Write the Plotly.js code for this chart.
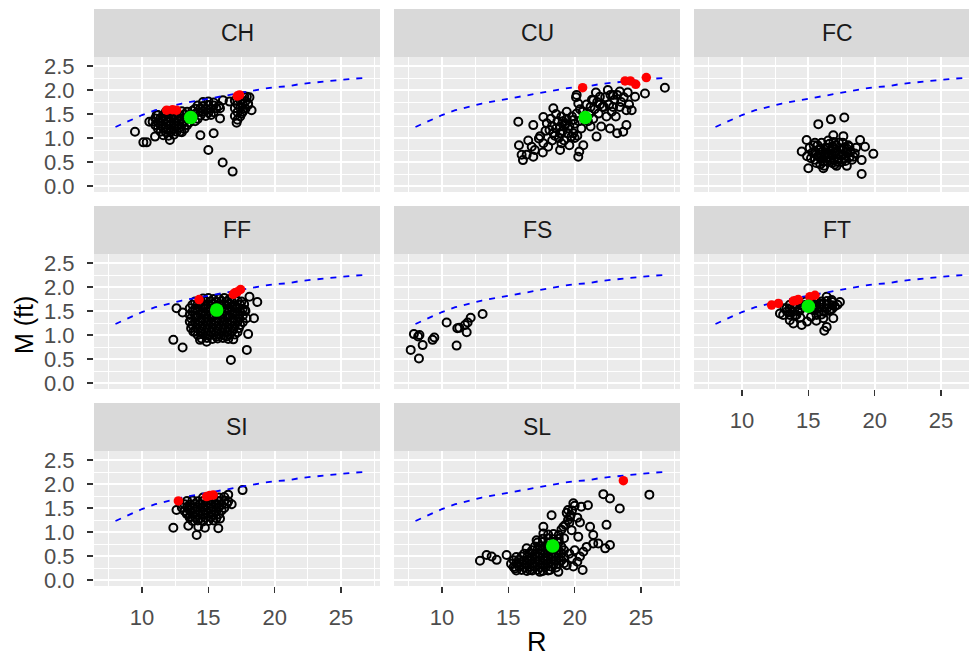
<!DOCTYPE html>
<html><head><meta charset="utf-8">
<script src="https://cdn.plot.ly/plotly-3.0.1.min.js"></script>
<style>html,body{margin:0;padding:0;overflow:hidden;background:#fff}#chart{width:981px;height:660px}</style>
</head><body><div id="chart"></div>
<script>
// ---------------- data ----------------
const facets = ['CH','CU','FC','FF','FS','FT','SI','SL'];
const xTicks = [10, 15, 20, 25];
const yTicks = [0, 0.5, 1, 1.5, 2, 2.5];
const yTickText = ['0.0','0.5','1.0','1.5','2.0','2.5'];

// dashed reference curve (same in every panel)
const lineR = [8, 9, 10, 11, 12, 13, 14, 15, 16, 17, 18, 19, 20, 21, 22, 23, 24, 25, 26, 26.8];
const lineM = [1.23, 1.36, 1.48, 1.58, 1.65, 1.72, 1.77, 1.82, 1.88, 1.93, 1.98, 2.02, 2.06, 2.08, 2.13, 2.16, 2.18, 2.21, 2.24, 2.25];

const CH_pts = [[9.47,1.13],[10.1,0.91],[10.35,0.91],[10.98,1.03],[10.55,1.34],[11.1,1.48],[12.1,0.96],[12.86,1.13],[14.4,1.06],[15.4,1.10],[15.0,0.75],[16.08,0.49],[16.83,0.30],[15.88,1.41],[15.88,1.62],[16.6,1.76],[16.1,1.79],[17.13,1.32],[18.26,1.58],[17.9,1.86],[17.5,1.51],[18.0,1.72],
[11.8,1.55],[12.2,1.56],[12.6,1.54],[13.0,1.56],[13.4,1.55],[13.8,1.57],
[11.2,1.48],[11.6,1.47],[12.0,1.49],[12.4,1.48],[12.8,1.47],[13.2,1.49],[13.6,1.48],[14.0,1.50],
[11.0,1.41],[11.4,1.42],[11.8,1.40],[12.2,1.41],[12.6,1.42],[13.0,1.40],[13.4,1.41],[13.8,1.42],[14.2,1.40],
[10.8,1.34],[11.2,1.33],[11.6,1.35],[12.0,1.34],[12.4,1.33],[12.8,1.35],[13.2,1.34],[13.6,1.33],[14.0,1.35],
[11.0,1.27],[11.4,1.26],[11.8,1.28],[12.2,1.27],[12.6,1.26],[13.0,1.28],[13.4,1.27],
[11.2,1.20],[11.6,1.21],[12.0,1.19],[12.4,1.20],[12.8,1.21],[13.2,1.19],
[11.4,1.13],[11.8,1.12],[12.2,1.14],[12.6,1.13],[13.0,1.12],
[11.6,1.06],[12.0,1.05],[12.4,1.07],
[14.6,1.75],[15.0,1.76],[15.4,1.74],
[14.2,1.68],[14.6,1.67],[15.0,1.69],[15.4,1.68],[15.8,1.67],
[14.0,1.61],[14.4,1.62],[14.8,1.60],[15.2,1.61],[15.6,1.62],
[14.2,1.54],[14.6,1.55],[15.0,1.53],[15.4,1.54],
[14.4,1.47],[14.8,1.46],[15.2,1.48],
[17.3,1.86],[17.7,1.87],[18.1,1.85],
[17.0,1.78],[17.4,1.79],[17.8,1.77],
[17.2,1.70],[17.6,1.71],[18.0,1.69],
[17.0,1.62],[17.4,1.63],[17.8,1.61],
[17.2,1.54],[17.6,1.55],
[17.0,1.46],[17.4,1.45],
[17.2,1.38]];
const CH_red = [[11.86,1.58],[12.3,1.59],[12.6,1.58],[17.18,1.875],[17.35,1.9]];
const CH_green = [[13.67,1.43]];

const CU_pts = [[15.75,1.34],[15.8,0.85],[16.0,0.65],[16.1,0.54],[16.38,0.65],[16.88,0.61],[16.76,0.82],[16.88,1.27],[17.64,1.44],[18.39,1.62],
[18.0,0.82],[18.9,0.75],[19.0,0.89],[18.4,1.10],[19.27,1.27],[18.9,1.24],[19.77,1.03],[20.27,0.61],[20.35,0.72],[20.65,0.85],
[21.65,1.03],[20.15,1.51],[20.27,1.72],[20.15,1.90],[21.4,1.79],[21.9,1.86],[22.5,2.0],[22.9,1.90],[23.4,1.97],[22.0,1.24],
[22.66,1.20],[22.9,1.65],[23.9,1.58],[24.3,1.58],[23.2,1.10],[23.9,1.27],[23.66,1.13],[24.55,1.86],[25.3,1.93],[26.8,2.05],
[21.8,1.51],[22.2,1.65],[21.2,1.24],[19.9,1.375],[19.4,1.55],[17.3,0.99],[17.64,0.89],[17.4,1.04],[18.1,1.17],[17.9,1.31],
[18.6,1.2],[18.8,1.0],[19.1,1.15],[19.3,1.3],[19.5,1.1],[19.6,1.25],[19.8,1.45],[20.0,1.3],[20.4,1.6],[20.5,1.2],
[19.2,0.95],[18.7,1.35],[19.9,1.1],[20.9,1.7],[21.1,1.5],[21.3,1.8],[21.5,1.6],[21.7,1.75],[22.3,1.85],[22.6,1.7],
[23.0,1.8],[23.2,1.9],[23.5,1.75],[23.7,1.85],[24.0,1.95],[22.8,1.55],[21.6,1.95],[20.7,1.4],[19.4,1.4],[18.5,1.05],
[18.2,1.4],[17.8,1.15],[20.1,1.85],[21.0,1.35],[22.4,1.45],[23.1,1.45],[24.1,1.7],[22.1,1.65],
[18.9,1.1],[19.5,1.2],[20.2,1.05],[18.3,1.25],[19.0,1.45],[20.6,1.55],[21.9,1.7],[22.7,1.9],[23.4,1.65],[21.2,1.65],
[17.0,0.75],[16.5,0.95],[17.6,0.70],[18.3,0.95],[19.6,0.85],[20.0,1.0],[19.1,1.35],[18.6,1.5],[20.3,1.35],[21.4,1.4]];
const CU_red = [[20.6,2.05],[23.8,2.19],[24.2,2.19],[24.6,2.12],[25.4,2.26]];
const CU_green = [[20.8,1.43]];

const FC_pts = [[15.75,1.29],[16.7,1.39],[17.71,1.43],[14.5,0.72],[15.0,0.37],[16.13,0.37],[17.13,0.42],[19.02,0.25],[19.9,0.67],[19.27,0.82],[18.9,0.96],[17.64,1.04],[16.88,1.06],[14.87,0.96],[19.02,0.54],[18.4,0.61],
[15.3,0.70],[15.5,0.55],[15.7,0.85],[15.9,0.65],[16.1,0.50],[16.3,0.80],[16.5,0.60],[16.7,0.75],[16.9,0.55],[17.1,0.85],[17.3,0.65],[17.5,0.50],[17.7,0.80],[17.9,0.70],[18.1,0.60],
[15.4,0.85],[15.8,0.75],[16.2,0.62],[16.6,0.88],[17.0,0.70],[17.4,0.78],[17.8,0.52],[18.2,0.72],
[15.6,0.48],[16.0,0.90],[16.4,0.70],[16.8,0.48],[17.2,0.58],[17.6,0.90],[18.0,0.85],
[15.2,0.58],[16.5,0.95],[17.3,0.90],[18.3,0.55],[15.9,0.45],[16.9,0.92],
[15.1,0.80],[16.2,0.42],[17.0,0.45],[17.9,0.42],[18.6,0.80],[18.5,0.68],[14.9,0.62],[15.6,0.66],[16.6,0.66],[17.6,0.66],
[15.5,0.72],[15.9,0.78],[16.3,0.68],[16.7,0.58],[17.1,0.72],[17.5,0.64],[17.9,0.78],[16.0,0.60],[16.4,0.52],[16.8,0.82],
[17.2,0.50],[17.6,0.76],[15.7,0.62],[16.1,0.72],[16.5,0.80],[16.9,0.64],[17.3,0.56],[17.7,0.58],[18.1,0.82],[15.5,0.90]];

const FF_pts = [[12.36,0.90],[13.06,0.74],[12.6,1.56],[13.06,1.47],[16.7,0.48],[17.9,0.69],[18.0,1.02],[18.44,1.35],[18.69,1.69],[18.1,1.80],[14.37,0.90],[14.87,0.86],[15.63,0.97],[16.38,0.97],[16.88,0.91],[13.87,1.07],[17.76,1.52],[17.88,1.35],
[14.6,1.76],[15.0,1.77],[15.4,1.75],[15.8,1.76],[16.2,1.77],[16.6,1.75],[17.0,1.76],
[14.0,1.70],[14.4,1.69],[14.8,1.71],[15.2,1.70],[15.6,1.69],[16.0,1.71],[16.4,1.70],[16.8,1.69],[17.2,1.71],[17.5,1.70],
[13.8,1.63],[14.2,1.64],[14.6,1.62],[15.0,1.63],[15.4,1.64],[15.8,1.62],[16.2,1.63],[16.6,1.64],[17.0,1.62],[17.4,1.63],[17.7,1.64],
[13.6,1.56],[14.0,1.55],[14.4,1.57],[14.8,1.56],[15.2,1.55],[15.6,1.57],[16.0,1.56],[16.4,1.55],[16.8,1.57],[17.2,1.56],[17.6,1.55],
[13.8,1.49],[14.2,1.50],[14.6,1.48],[15.0,1.49],[15.4,1.50],[15.8,1.48],[16.2,1.49],[16.6,1.50],[17.0,1.48],[17.4,1.49],[17.8,1.50],
[13.6,1.42],[14.0,1.41],[14.4,1.43],[14.8,1.42],[15.2,1.41],[15.6,1.43],[16.0,1.42],[16.4,1.41],[16.8,1.43],[17.2,1.42],[17.6,1.41],
[13.7,1.35],[14.1,1.36],[14.5,1.34],[14.9,1.35],[15.3,1.36],[15.7,1.34],[16.1,1.35],[16.5,1.36],[16.9,1.34],[17.3,1.35],
[13.6,1.28],[14.0,1.27],[14.4,1.29],[14.8,1.28],[15.2,1.27],[15.6,1.29],[16.0,1.28],[16.4,1.27],[16.8,1.29],[17.2,1.28],[17.6,1.27],
[13.8,1.21],[14.2,1.22],[14.6,1.20],[15.0,1.21],[15.4,1.22],[15.8,1.20],[16.2,1.21],[16.6,1.22],[17.0,1.20],[17.4,1.21],
[13.7,1.14],[14.1,1.15],[14.5,1.13],[14.9,1.14],[15.3,1.15],[15.7,1.13],[16.1,1.14],[16.5,1.15],[16.9,1.13],[17.3,1.14],
[14.0,1.07],[14.4,1.08],[14.8,1.06],[15.2,1.07],[15.6,1.08],[16.0,1.06],[16.4,1.07],[16.8,1.08],[17.2,1.06],
[14.2,1.00],[14.6,1.01],[15.0,0.99],[15.4,1.00],[15.8,1.01],[16.2,0.99],[16.6,1.00],[17.0,1.01],
[14.5,0.93],[14.9,0.94],[15.3,0.92],[15.7,0.93],[16.1,0.94],[16.5,0.92]];
const FF_red = [[14.3,1.74],[16.88,1.85],[17.0,1.88],[17.18,1.90],[17.43,1.95]];
const FF_green = [[15.63,1.52]];

const FS_pts = [[7.64,0.69],[8.26,0.51],[7.88,1.02],[8.2,0.97],[8.3,1.0],[8.54,0.79],[9.29,0.90],[9.42,0.95],[10.35,1.26],[11.1,0.78],[11.15,1.14],[11.3,1.15],[11.73,1.21],[11.86,1.06],[11.93,1.26],[12.16,1.36],[13.06,1.44]];

const FT_pts = [[13.1,1.42],[13.6,1.31],[13.87,1.24],[14.5,1.21],[14.1,1.42],[15.62,1.42],[16.13,1.35],[16.38,1.17],[16.2,1.09],[16.88,1.35],[17.38,1.69],[16.76,1.73],[16.38,1.80],[15.88,1.66],[15.37,1.52],[14.37,1.52],[13.36,1.56],[12.86,1.45],[16.63,1.52],[17.0,1.60],
[14.8,1.70],[15.2,1.71],[15.6,1.69],[16.0,1.70],[16.4,1.71],[16.8,1.69],
[13.6,1.63],[14.0,1.64],[14.4,1.62],[14.8,1.63],[15.2,1.64],[15.6,1.62],[16.0,1.63],[16.4,1.64],[16.8,1.62],[17.2,1.63],
[13.2,1.56],[13.6,1.55],[14.0,1.57],[14.4,1.56],[15.6,1.55],[16.0,1.57],[16.4,1.56],[16.8,1.55],
[13.4,1.49],[13.8,1.48],[14.2,1.50],[15.8,1.49],[16.2,1.48],[16.6,1.50],
[13.6,1.42],[14.0,1.41],[14.4,1.36],[15.6,1.30],[16.0,1.43],[14.9,1.28],[15.2,1.38]];
const FT_red = [[12.23,1.625],[12.74,1.66],[13.87,1.71],[14.05,1.72],[14.24,1.74],[15.12,1.80],[15.5,1.83]];
const FT_green = [[15.0,1.60]];

const SI_pts = [[12.36,1.09],[12.6,1.46],[13.49,1.13],[14.12,0.94],[14.24,1.11],[14.74,1.09],[15.75,1.08],[15.88,1.28],[16.76,1.58],[16.5,1.78],[17.58,1.875],[13.6,1.32],[13.36,1.39],
[14.6,1.72],[15.0,1.73],[15.4,1.71],[15.8,1.72],[16.2,1.73],
[13.4,1.65],[13.8,1.66],[14.2,1.64],[14.6,1.65],[15.0,1.66],[15.4,1.64],[15.8,1.65],[16.2,1.66],[16.5,1.64],
[13.2,1.58],[13.6,1.57],[14.0,1.59],[14.4,1.58],[14.8,1.57],[15.2,1.59],[15.6,1.58],[16.0,1.57],[16.4,1.59],
[13.0,1.51],[13.4,1.52],[13.8,1.50],[14.2,1.51],[14.6,1.52],[15.0,1.50],[15.4,1.51],[15.8,1.52],[16.2,1.50],
[13.2,1.44],[13.6,1.45],[14.0,1.43],[14.4,1.44],[14.8,1.45],[15.2,1.43],[15.6,1.44],[16.0,1.45],
[13.4,1.37],[13.8,1.38],[14.2,1.36],[14.6,1.37],[15.0,1.38],[15.4,1.36],[15.8,1.37],
[13.6,1.30],[14.0,1.31],[14.4,1.29],[14.8,1.30],[15.2,1.31],[15.6,1.29],
[13.8,1.23],[14.2,1.24],[14.6,1.22],[15.0,1.23],[15.4,1.24]];
const SI_red = [[12.74,1.65],[14.87,1.74],[15.1,1.76],[15.37,1.77]];

const SL_pts = [[25.63,1.78],[22.16,1.79],[22.66,1.70],[23.4,1.49],[22.4,1.15],[22.66,0.73],[22.3,0.66],[21.78,0.76],[21.4,0.94],[21.16,1.11],[21.0,1.56],[20.5,1.53],[19.9,1.60],[19.5,1.46],[19.65,1.32],[18.26,1.35],[17.64,1.11],[20.65,0.59],[20.6,0.21],[19.9,0.28],[19.4,0.31],[18.77,0.17],[18.14,0.21],[17.38,0.17],[16.63,0.21],[15.5,0.24],[14.87,0.52],[14.12,0.42],[13.74,0.49],[13.36,0.52],[12.86,0.40],[16.38,0.66],[17.13,0.83],[17.64,0.97],[19.15,1.11],[19.77,1.04],[20.27,0.90],[20.9,0.69],[21.4,0.76],[20.4,0.49],
[19.6,0.55],[20.0,0.62],[19.8,0.45],[20.2,0.38],
[15.6,0.20],[16.0,0.21],[16.4,0.19],[16.8,0.20],[17.2,0.21],[17.6,0.19],[18.0,0.20],
[15.4,0.27],[15.8,0.28],[16.2,0.26],[16.6,0.27],[17.0,0.28],[17.4,0.26],[17.8,0.27],[18.2,0.28],[18.6,0.26],
[15.2,0.34],[15.6,0.35],[16.0,0.33],[16.4,0.34],[16.8,0.35],[17.2,0.33],[17.6,0.34],[18.0,0.35],[18.4,0.33],[18.8,0.34],[19.2,0.35],
[15.4,0.41],[15.8,0.42],[16.2,0.40],[16.6,0.41],[17.0,0.42],[17.4,0.40],[17.8,0.41],[18.2,0.42],[18.6,0.40],[19.0,0.41],
[15.6,0.48],[16.0,0.49],[16.4,0.47],[16.8,0.48],[17.2,0.49],[17.6,0.47],[18.0,0.48],[18.4,0.49],[18.8,0.47],[19.2,0.48],
[16.2,0.55],[16.6,0.56],[17.0,0.54],[17.4,0.55],[17.8,0.56],[18.2,0.54],[18.6,0.55],[19.0,0.56],
[16.8,0.62],[17.2,0.63],[17.6,0.61],[18.0,0.62],[18.4,0.63],[18.8,0.61],[19.2,0.62],
[17.0,0.70],[17.4,0.71],[17.8,0.69],[18.2,0.70],[18.6,0.71],[19.0,0.69],
[17.2,0.78],[17.6,0.79],[18.0,0.77],[18.4,0.78],[18.8,0.79],
[17.6,0.86],[18.0,0.87],[18.4,0.85],[18.8,0.86],[19.2,0.87],
[18.0,0.95],[18.4,0.96],[18.8,0.94],
[19.0,1.05],[19.3,1.15],[19.5,1.25],[19.7,1.35],[19.8,1.45],[20.0,1.55],[19.6,1.20],[19.4,1.40],[20.2,1.30],[20.4,1.20]];
const SL_red = [[23.67,2.07]];
const SL_green = [[18.34,0.71]];

const blackPts = {CH: CH_pts, CU: CU_pts, FC: FC_pts, FF: FF_pts, FS: FS_pts, FT: FT_pts, SI: SI_pts, SL: SL_pts};
const redPts = {CH: CH_red, CU: CU_red, FF: FF_red, FT: FT_red, SI: SI_red, SL: SL_red};
const greenPts = {CH: CH_green, CU: CU_green, FF: FF_green, FT: FT_green, SL: SL_green};

// ---------------- layout geometry (pixels) ----------------
const W = 981, H = 660;
const colLeft = [94, 394, 694], panelW = 286;
const rowTop = [57, 254, 451], panelH = 135, stripH = 48;
const FONT = '"Liberation Sans", Arial, sans-serif';

const traces = [];
const layout = {
  width: W, height: H, margin: {l: 0, r: 0, t: 0, b: 0},
  paper_bgcolor: '#FFFFFF', plot_bgcolor: '#EBEBEB',
  showlegend: false, font: {family: FONT},
  shapes: [], annotations: []
};

facets.forEach((f, i) => {
  const r = Math.floor(i / 3), c = i % 3;
  const n = i + 1, xa = 'x' + (n === 1 ? '' : n), ya = 'y' + (n === 1 ? '' : n);
  const showX = (f === 'SI' || f === 'SL' || f === 'FT');
  const showY = (c === 0);
  const x0 = colLeft[c], x1 = x0 + panelW, yT = rowTop[r], yB = yT + panelH;

  layout['xaxis' + (n === 1 ? '' : n)] = {
    domain: [x0 / W, x1 / W], anchor: ya, range: [6.38, 27.94],
    showgrid: true, gridcolor: '#FFFFFF', gridwidth: 2, zeroline: false, showline: false,
    tickvals: xTicks, ticktext: xTicks.map(String),
    minor: {tickvals: [7.5, 12.5, 17.5, 22.5, 27.5], showgrid: true, gridcolor: '#FFFFFF', gridwidth: 1, ticks: ''},
    ticks: showX ? 'outside' : '', ticklen: 6, tickwidth: 1.5, tickcolor: '#333333',
    ticklabelstandoff: 6,
    showticklabels: showX, tickfont: {family: FONT, size: 22, color: '#4D4D4D'}
  };
  layout['yaxis' + (n === 1 ? '' : n)] = {
    domain: [1 - yB / H, 1 - yT / H], anchor: xa, range: [-0.125, 2.69],
    showgrid: true, gridcolor: '#FFFFFF', gridwidth: 2, zeroline: false, showline: false,
    tickvals: yTicks, ticktext: yTickText,
    minor: {tickvals: [0.25, 0.75, 1.25, 1.75, 2.25], showgrid: true, gridcolor: '#FFFFFF', gridwidth: 1, ticks: ''},
    ticks: showY ? 'outside' : '', ticklen: 6, tickwidth: 1.5, tickcolor: '#333333',
    ticklabelstandoff: 8,
    showticklabels: showY, tickfont: {family: FONT, size: 22, color: '#4D4D4D'}
  };

  // strip
  layout.shapes.push({type: 'rect', xref: 'paper', yref: 'paper',
    x0: x0 / W, x1: x1 / W, y0: 1 - yT / H, y1: 1 - (yT - stripH) / H,
    fillcolor: '#D9D9D9', line: {width: 0}});
  layout.annotations.push({xref: 'paper', yref: 'paper', x: (x0 + x1) / 2 / W, y: 1 - (yT - stripH / 2) / H,
    text: f, showarrow: false, xanchor: 'center', yanchor: 'middle',
    font: {family: FONT, size: 23, color: '#1A1A1A'}});

  const pts = blackPts[f];
  traces.push({type: 'scatter', mode: 'markers', xaxis: xa, yaxis: ya,
    x: pts.map(p => p[0]), y: pts.map(p => p[1]),
    marker: {symbol: 'circle-open', size: 8, color: '#000000', line: {width: 2, color: '#000000'}}});
  traces.push({type: 'scatter', mode: 'lines', xaxis: xa, yaxis: ya, x: lineR, y: lineM,
    line: {color: '#0000FF', width: 1.8, dash: '6px,7px'}});
  if (redPts[f]) {
    const rp = redPts[f];
    traces.push({type: 'scatter', mode: 'markers', xaxis: xa, yaxis: ya,
      x: rp.map(p => p[0]), y: rp.map(p => p[1]),
      marker: {symbol: 'circle', size: 9.5, color: '#FF0000'}});
  }
  if (greenPts[f]) {
    const gp = greenPts[f];
    traces.push({type: 'scatter', mode: 'markers', xaxis: xa, yaxis: ya,
      x: gp.map(p => p[0]), y: gp.map(p => p[1]),
      marker: {symbol: 'circle', size: 13.5, color: '#00EE00'}});
  }
});

// axis titles
layout.annotations.push({xref: 'paper', yref: 'paper', x: 24 / W, y: 1 - 325 / H, text: 'M (ft)',
  textangle: -90, showarrow: false, xanchor: 'center', yanchor: 'middle',
  font: {family: FONT, size: 25, color: '#000000'}});
layout.annotations.push({xref: 'paper', yref: 'paper', x: 537 / W, y: 1 - 642 / H, text: 'R',
  showarrow: false, xanchor: 'center', yanchor: 'middle',
  font: {family: FONT, size: 27, color: '#000000'}});

Plotly.newPlot('chart', traces, layout, {staticPlot: true, displayModeBar: false});
</script>
</body></html>
